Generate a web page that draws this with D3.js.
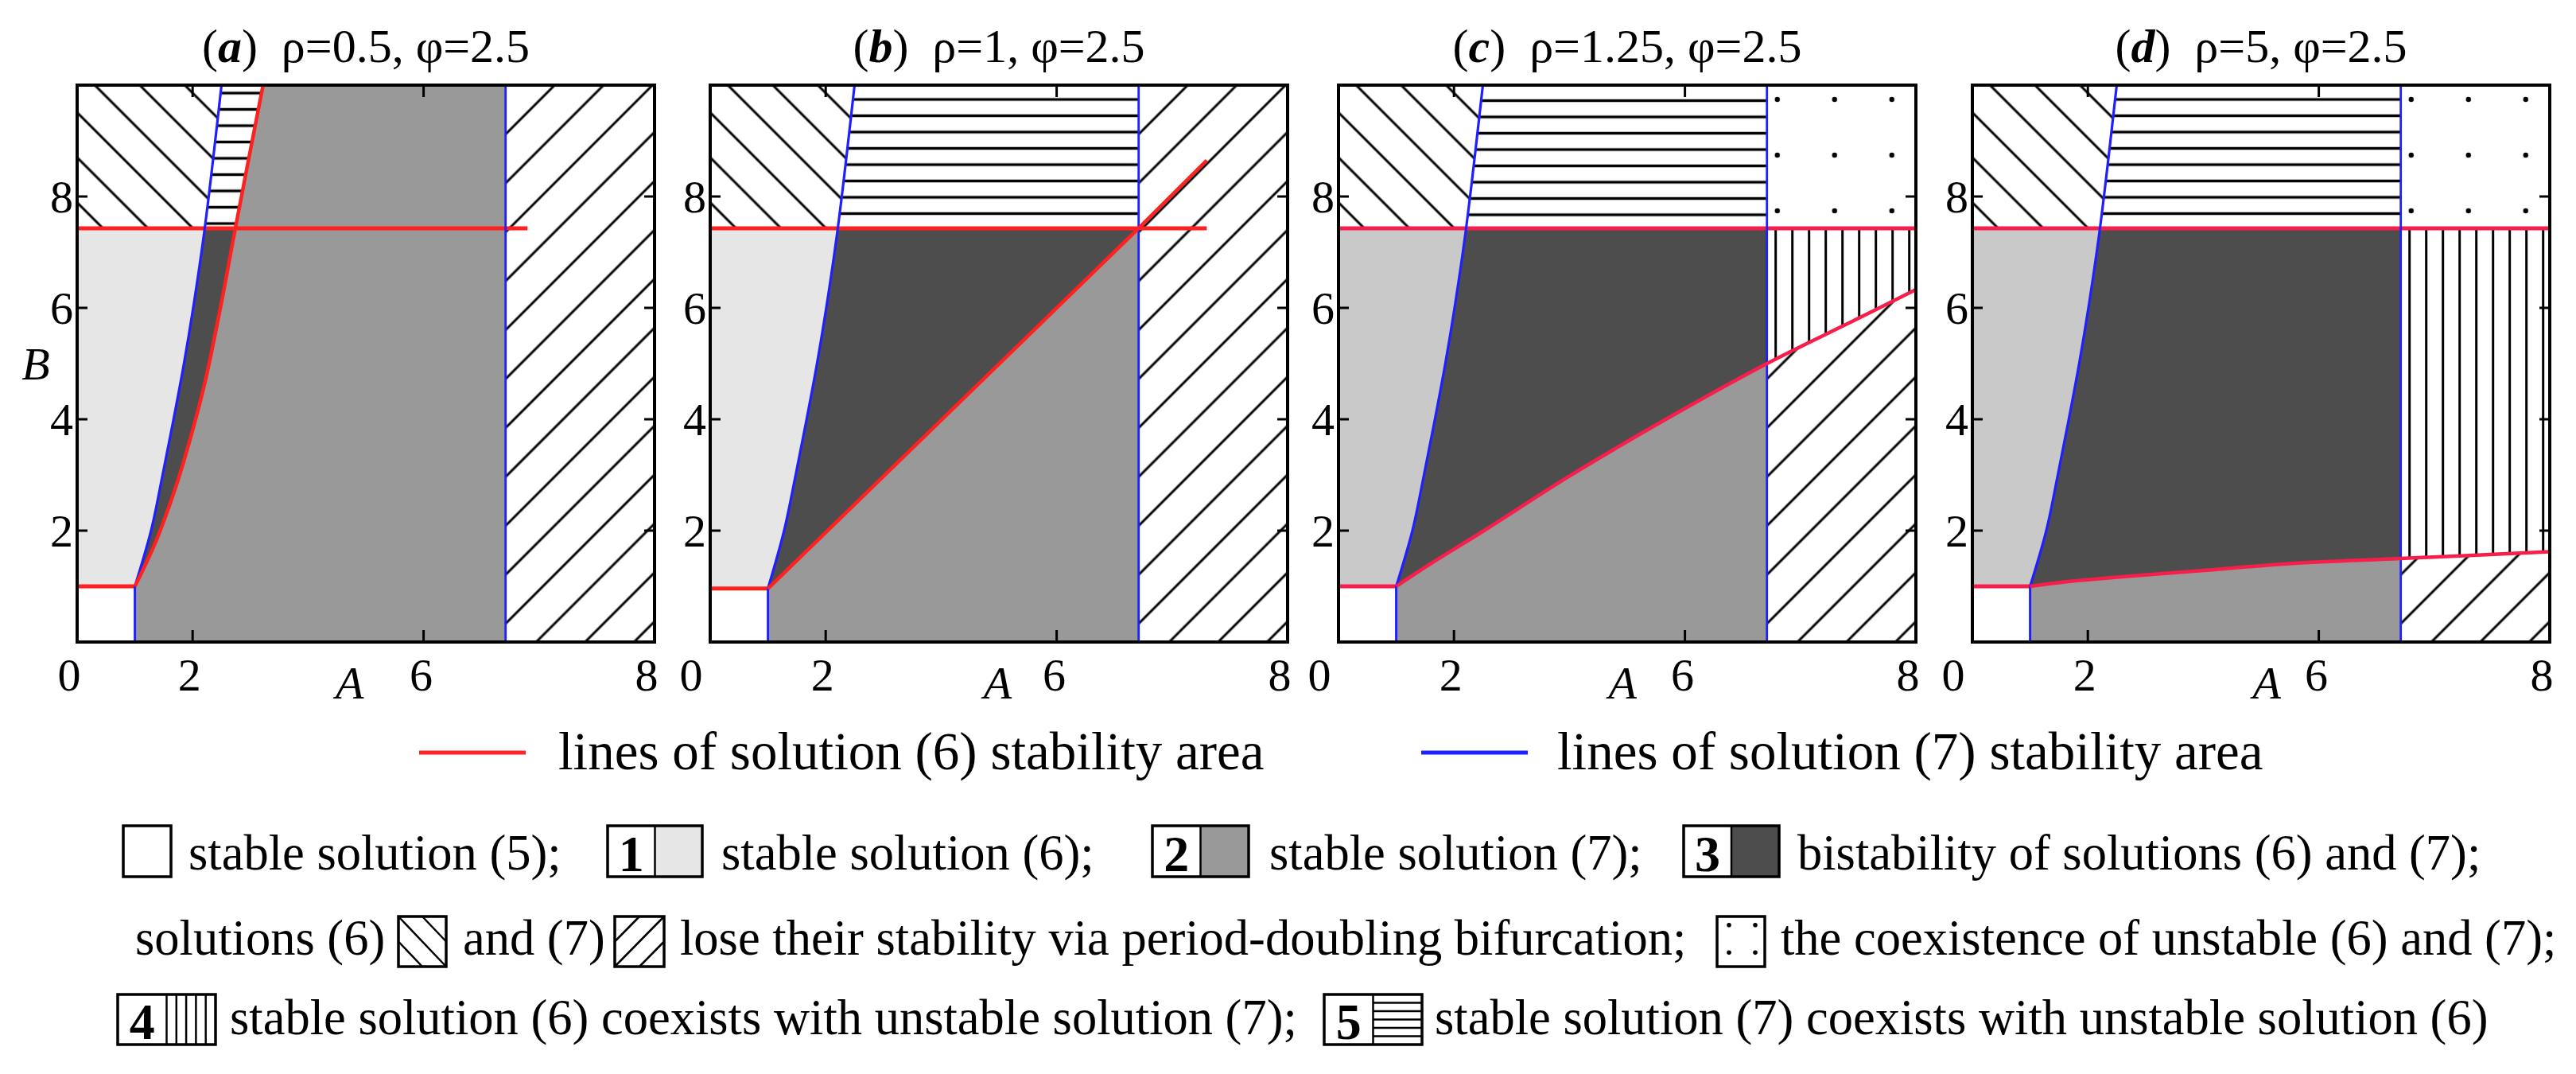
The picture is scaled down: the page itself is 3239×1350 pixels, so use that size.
<!DOCTYPE html>
<html><head><meta charset="utf-8">
<script src="https://cdn.jsdelivr.net/npm/d3@7/dist/d3.min.js"></script>
<style>body{margin:0;background:#fff}svg{display:block}</style>
</head><body>
<svg id="chart" width="3239" height="1350"></svg>
<script>
// ---------------- data ----------------
const panelLetters = ["a", "b", "c", "d"];
const rhoValues = ["0.5", "1", "1.25", "5"];
const phiValue = "2.5";
const xDomain = [0, 10];
const yDomain = [0, 10];
const xTickValues = [2, 6];
const yTickValues = [2, 4, 6, 8];
const xTickLabelValues = [0, 2, 6, 10];
const xTickLabels = ["0", "2", "6", "8"];
const yTickLabels = ["2", "4", "6", "8"];
const xAxisLabelAt = [4.72, 4.98, 4.92, 5.1];

const cornerA = 1.0;
const cornerB = [1.0, 0.96, 1.0, 1.0];
const pdB6 = 7.43;   // solution (6) loses stability above this B
const pdA7 = 7.42;   // solution (7) loses stability beyond this A
const pdLineEnd = [7.8, 8.6, 10, 10];

// blue curve (solution 7 stability boundary), shared by all panels
const blueCurveA = [1.0, 1.28, 1.48, 1.67, 1.85, 2.01, 2.21, 2.5];
const blueCurveB = [1.0, 2.0, 3.0, 4.0, 5.0, 6.0, 7.43, 10];

// red curves (solution 6 stability boundary)
const redCurveA_a = [1.0, 1.365, 1.70, 1.975, 2.215, 2.5, 2.74, 3.22];
const redCurveB_a = [1.0, 1.81, 2.76, 3.71, 4.67, 6.1, 7.43, 10];
const redCurveA_b = [1.0, 7.42, 8.6];
const redCurveB_b = [0.96, 7.43, 8.65];
const redCurveA_c = [1.0, 1.6, 2.52, 4.0, 5.67, 7.42, 9.0, 10];
const redCurveB_c = [1.0, 1.41, 2.0, 2.98, 4.0, 5.0, 5.81, 6.33];
const redCurveA_d = [1.0, 1.6, 2.59, 4.06, 5.53, 7.42, 10];
const redCurveB_d = [1.0, 1.08, 1.17, 1.29, 1.41, 1.5, 1.62];
const redCurvesA = [redCurveA_a, redCurveA_b, redCurveA_c, redCurveA_d];
const redCurvesB = [redCurveB_a, redCurveB_b, redCurveB_c, redCurveB_d];

const legendLineLabels = ["lines of solution (6) stability area", "lines of solution (7) stability area"];

// ---------------- layout / style ----------------
const FONT = "'Liberation Serif','Times New Roman',serif";
const X_LEFT = [97, 893, 1683, 2480];
const PANEL_W = 726, PLOT_TOP = 107, PLOT_BOTTOM = 807;
const lightFill = ["#e6e6e6", "#e6e6e6", "#c9c9c9", "#c9c9c9"];
const redColor = ["#ff2020", "#ff2020", "#f81e4c", "#f81e4c"];
const MID = "#999999", DARK = "#4d4d4d";
const RED = "#ff2424", BLUE = "#2020ff";
const hPhase = [117, 125, 147, 125];

const svg = d3.select("#chart");
svg.append("rect").attr("width", 3239).attr("height", 1350).attr("fill", "#fff");
const defs = svg.append("defs");

function linePattern(id, w, h, x1, y1, x2, y2, sw, opts = {}) {
  const p = defs.append("pattern").attr("id", id).attr("patternUnits", "userSpaceOnUse")
    .attr("width", w).attr("height", h).attr("x", opts.x || 0).attr("y", opts.y || 0);
  if (opts.rotate) p.attr("patternTransform", `rotate(${opts.rotate})`);
  p.append("rect").attr("width", w).attr("height", h).attr("fill", "#fff");
  p.append("line").attr("x1", x1).attr("y1", y1).attr("x2", x2).attr("y2", y2)
    .attr("stroke", "#000").attr("stroke-width", sw);
}
linePattern("back", 40, 40, -2, 20, 42, 20, 3, { rotate: 45 });
linePattern("slash", 43.5, 43.5, -2, 21.75, 45.5, 21.75, 3.2, { rotate: -45 });

panelLetters.forEach((letter, i) => {
  const x = d3.scaleLinear().domain(xDomain).range([0, PANEL_W]);
  const y = d3.scaleLinear().domain(yDomain).range([PLOT_BOTTOM, PLOT_TOP]);
  const g = svg.append("g").attr("transform", `translate(${X_LEFT[i]},0)`);

  // per-panel patterns
  linePattern(`h${i}`, 60, 20.5, -2, 10.25, 62, 10.25, 3.5, { y: hPhase[i] - 10.25 });
  linePattern(`v${i}`, 21, 60, 10.5, -2, 10.5, 62, 3, { x: x(pdA7) + 11 - 10.5 });
  const dp = defs.append("pattern").attr("id", `dots${i}`).attr("patternUnits", "userSpaceOnUse")
    .attr("width", 72).attr("height", 70).attr("x", x(7.6) - 36).attr("y", 125 - 35);
  dp.append("rect").attr("width", 72).attr("height", 70).attr("fill", "#fff");
  dp.append("circle").attr("cx", 36).attr("cy", 35).attr("r", 3.2).attr("fill", "#000");

  const clipId = `clip${i}`;
  defs.append("clipPath").attr("id", clipId).append("rect")
    .attr("x", 0).attr("y", PLOT_TOP).attr("width", PANEL_W).attr("height", PLOT_BOTTOM - PLOT_TOP);
  const body = g.append("g").attr("clip-path", `url(#${clipId})`);

  const SMOOTH = d3.curveCatmullRom.alpha(0.5), LIN = d3.curveLinear;
  const seg = (pts, curve) => d3.line().x(d => x(d[0])).y(d => y(d[1])).curve(curve || LIN)(pts);
  // compose a path from several segments: [[pts, curve], ...]
  const compose = (segs) => segs.map((s, k) => {
    const p = seg(s[0], s[1]);
    return k === 0 ? p : "L" + p.slice(1);
  }).join("") + "Z";
  const fillPath = (segs, fill) => body.append("path").attr("d", compose(segs)).attr("fill", fill);

  const cB = cornerB[i];
  const redCurve = i === 1 ? LIN : SMOOTH;
  const blue = blueCurveA.map((a, k) => [a, k === 0 ? cB : blueCurveB[k]]);
  const blueLow = blue.filter(p => p[1] <= pdB6);
  const blueHigh = blue.filter(p => p[1] >= pdB6);
  const red = redCurvesA[i].map((a, k) => [a, redCurvesB[i][k]]);
  const T = yDomain[1], R = xDomain[1];

  fillPath([[[[0, 0], [R, 0], [R, T], [0, T]]]], "#fff");
  fillPath([[[[cornerA, 0], [pdA7, 0], [pdA7, T], [cornerA, T]]]], MID);

  if (i === 0) {
    const redLow = red.filter(p => p[1] <= pdB6);
    const redHigh = red.filter(p => p[1] >= pdB6);
    fillPath([[[[0, cB]]], [redLow, SMOOTH], [[[0, pdB6]]]], DARK);
    fillPath([[[[0, pdB6]]], [redHigh, SMOOTH], [[[0, T]]]], `url(#h${i})`);
  } else {
    const redIn = red.filter(p => p[0] <= pdA7);
    fillPath([[redIn, redCurve], [[[pdA7, pdB6], [cornerA, pdB6]]]], DARK);
    fillPath([[[[0, pdB6], [pdA7, pdB6], [pdA7, T], [0, T]]]], `url(#h${i})`);
  }
  fillPath([[[[0, cB]]], [blueLow, SMOOTH], [[[0, pdB6]]]], lightFill[i]);
  fillPath([[[[0, pdB6]]], [blueHigh, SMOOTH], [[[0, T]]]], "url(#back)");

  if (i < 2) {
    fillPath([[[[pdA7, 0], [R, 0], [R, T], [pdA7, T]]]], "url(#slash)");
  } else {
    const redRight = red.filter(p => p[0] >= pdA7);
    fillPath([[[[pdA7, pdB6], [R, pdB6], [R, T], [pdA7, T]]]], `url(#dots${i})`);
    fillPath([[redRight, SMOOTH], [[[R, pdB6], [pdA7, pdB6]]]], `url(#v${i})`);
    fillPath([[redRight, SMOOTH], [[[R, 0], [pdA7, 0]]]], "url(#slash)");
  }

  // boundary lines
  const stroke = (pts, curve, color, w) => body.append("path").attr("d", seg(pts, curve))
    .attr("fill", "none").attr("stroke", color).attr("stroke-width", w).attr("stroke-linejoin", "round");
  const rc = redColor[i];
  stroke([[0, cB], [cornerA, cB]], LIN, rc, 5);
  stroke([[0, pdB6], [pdLineEnd[i], pdB6]], LIN, rc, 5);
  stroke([[cornerA, 0], [cornerA, cB]], LIN, BLUE, 3);
  stroke([[pdA7, 0], [pdA7, T]], LIN, BLUE, 2.8);
  stroke(blue, SMOOTH, BLUE, 3.2);
  stroke(red, redCurve, rc, 4.5);

  // frame and inward ticks
  g.append("rect").attr("x", 0).attr("y", PLOT_TOP).attr("width", PANEL_W).attr("height", PLOT_BOTTOM - PLOT_TOP)
    .attr("fill", "none").attr("stroke", "#000").attr("stroke-width", 4);
  const tl = 13;
  yTickValues.forEach(v => {
    g.append("line").attr("x1", 0).attr("x2", tl).attr("y1", y(v)).attr("y2", y(v)).attr("stroke", "#000").attr("stroke-width", 3);
    g.append("line").attr("x1", PANEL_W - tl).attr("x2", PANEL_W).attr("y1", y(v)).attr("y2", y(v)).attr("stroke", "#000").attr("stroke-width", 3);
  });
  xTickValues.forEach(v => {
    g.append("line").attr("x1", x(v)).attr("x2", x(v)).attr("y1", PLOT_TOP).attr("y2", PLOT_TOP + tl + 2).attr("stroke", "#000").attr("stroke-width", 3);
    g.append("line").attr("x1", x(v)).attr("x2", x(v)).attr("y1", PLOT_BOTTOM - tl - 2).attr("y2", PLOT_BOTTOM).attr("stroke", "#000").attr("stroke-width", 3);
  });

  // tick labels
  yTickValues.forEach((v, k) => {
    g.append("text").attr("x", -5).attr("y", y(v)).attr("dy", "0.35em").attr("text-anchor", "end")
      .attr("font-family", FONT).attr("font-size", 58).text(yTickLabels[k]);
  });
  const xNudge = [i === 0 ? -10 : -24, -4, -3, -10];
  xTickLabelValues.forEach((v, k) => {
    g.append("text").attr("x", x(v) + xNudge[k]).attr("y", 868).attr("text-anchor", "middle")
      .attr("font-family", FONT).attr("font-size", 58).text(xTickLabels[k]);
  });
  g.append("text").attr("x", x(xAxisLabelAt[i])).attr("y", 878).attr("text-anchor", "middle")
    .attr("font-family", FONT).attr("font-size", 58).attr("font-style", "italic").text("A");
  if (i === 0) {
    g.append("text").attr("x", -52).attr("y", y(5)).attr("dy", "0.35em").attr("text-anchor", "middle")
      .attr("font-family", FONT).attr("font-size", 58).attr("font-style", "italic").text("B");
  }

  // title
  const t = g.append("text").attr("x", PANEL_W / 2).attr("y", 78).attr("text-anchor", "middle")
    .attr("font-family", FONT).attr("font-size", 60);
  t.append("tspan").text("(");
  t.append("tspan").attr("font-weight", "bold").attr("font-style", "italic").text(letter);
  t.append("tspan").text(")\u00a0\u00a0\u03c1=" + rhoValues[i] + ", \u03c6=" + phiValue);
});

// ---------------- line legend ----------------
const LFS = 67;
[[527, 661, RED, 702], [1787, 1921, BLUE, 1958]].forEach((d, k) => {
  svg.append("line").attr("x1", d[0]).attr("x2", d[1]).attr("y1", 946).attr("y2", 946)
    .attr("stroke", d[2]).attr("stroke-width", 5);
  svg.append("text").attr("x", d[3]).attr("y", 967).attr("font-family", FONT).attr("font-size", LFS)
    .text(legendLineLabels[k]);
});

// ---------------- region legend ----------------
const FS = 62.5;
function legText(x, yb, s) {
  svg.append("text").attr("x", x).attr("y", yb).attr("font-family", FONT).attr("font-size", FS).text(s);
}
function legBox(x, y0, w, h, kind, label, fill) {
  const g = svg.append("g");
  let px = x, pw = w;
  if (label) {
    const half = w / 2;
    g.append("text").attr("x", x + half / 2).attr("y", y0 + h - 7).attr("text-anchor", "middle")
      .attr("font-family", FONT).attr("font-size", 64).attr("font-weight", "bold").text(label);
    px = x + half; pw = w - half;
  }
  if (kind === "fill") g.append("rect").attr("x", px).attr("y", y0).attr("width", pw).attr("height", h).attr("fill", fill);
  const ln = (a, b, c, d) => g.append("line").attr("x1", a).attr("y1", b).attr("x2", c).attr("y2", d)
    .attr("stroke", "#000").attr("stroke-width", 2.5);
  if (kind === "back") { ln(px, y0, px + pw, y0 + h); ln(px + pw / 2, y0, px + pw, y0 + h / 2); ln(px, y0 + h / 2, px + pw / 2, y0 + h); }
  if (kind === "slash") { ln(px, y0 + h, px + pw, y0); ln(px, y0 + h / 2, px + pw / 2, y0); ln(px + pw / 2, y0 + h, px + pw, y0 + h / 2); }
  if (kind === "dots") {
    [[0.25, 0.17], [0.8, 0.17], [0.25, 0.72], [0.8, 0.72]].forEach(p =>
      g.append("circle").attr("cx", px + p[0] * pw).attr("cy", y0 + p[1] * h).attr("r", 2.8));
  }
  if (kind === "vlines") { for (let k = 1; k <= 4; k++) ln(px + k * pw / 5, y0, px + k * pw / 5, y0 + h); }
  if (kind === "hlines") { for (let k = 1; k <= 5; k++) ln(px, y0 + k * h / 6, px + pw, y0 + k * h / 6); }
  if (label) ln(px, y0, px, y0 + h);
  g.append("rect").attr("x", x).attr("y", y0).attr("width", w).attr("height", h)
    .attr("fill", "none").attr("stroke", "#000").attr("stroke-width", 3.5);
}
// row 1
legBox(155, 1038, 60, 64, "none");
legText(237, 1093, "stable solution (5);");
legBox(764, 1038, 119, 64, "fill", "1", lightFill[0]);
legText(907, 1093, "stable solution (6);");
legBox(1449, 1038, 121, 64, "fill", "2", MID);
legText(1596, 1093, "stable solution (7);");
legBox(2117, 1038, 120, 64, "fill", "3", DARK);
legText(2260, 1093, "bistability of solutions (6) and (7);");
// row 2
legText(170, 1200, "solutions (6)");
legBox(501, 1152, 60, 63, "back");
legText(582, 1200, "and (7)");
legBox(773, 1152, 62, 63, "slash");
legText(855, 1200, "lose their stability via period-doubling bifurcation;");
legBox(2159, 1152, 60, 63, "dots");
legText(2239, 1200, "the coexistence of unstable (6) and (7);");
// row 3
legBox(148, 1250, 123, 63, "vlines", "4");
legText(289, 1300, "stable solution (6) coexists with unstable solution (7);");
legBox(1665, 1250, 123, 63, "hlines", "5");
legText(1804, 1300, "stable solution (7) coexists with unstable solution (6)");
</script>
</body></html>
